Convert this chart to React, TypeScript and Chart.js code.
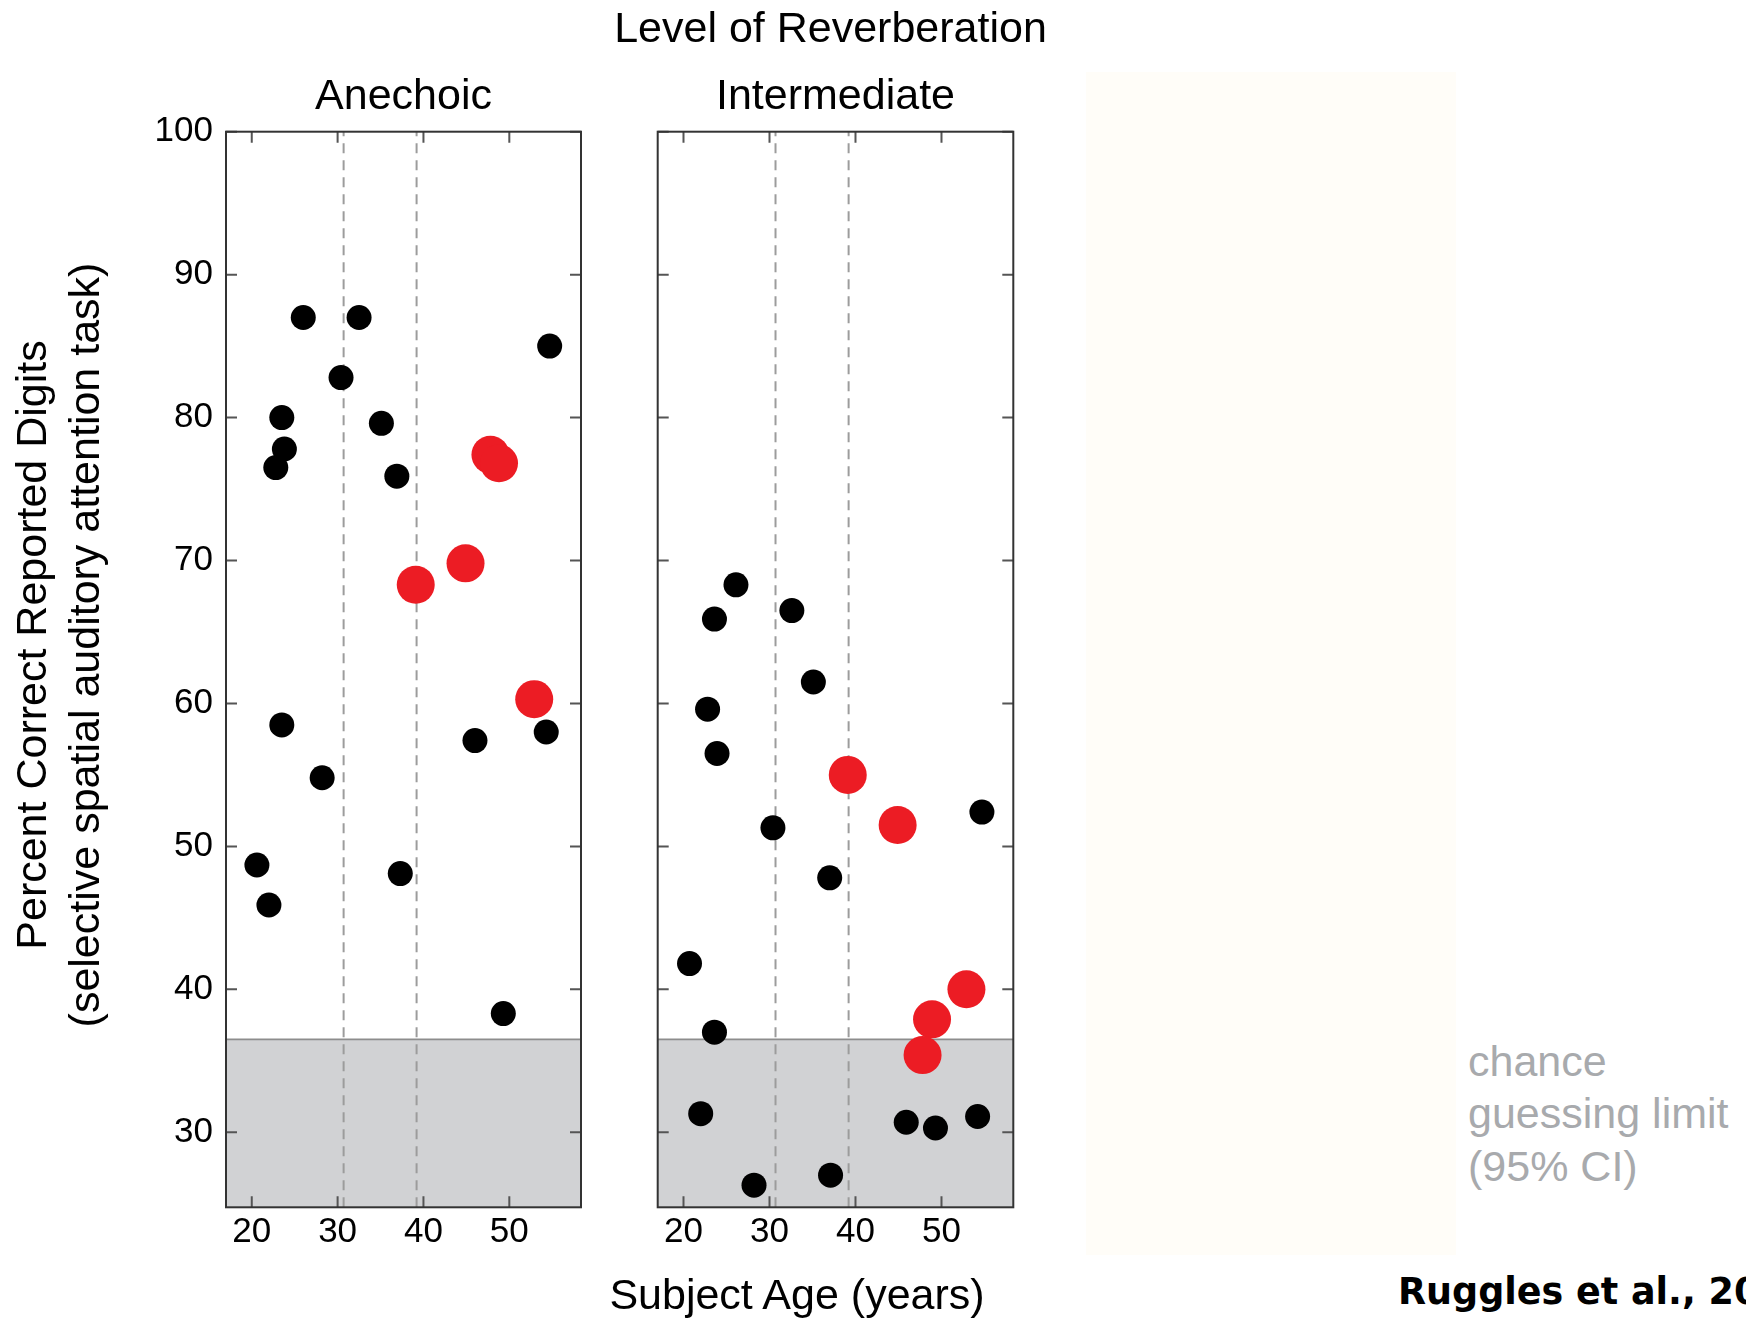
import React, { useEffect, useRef } from 'react';
import { Chart, registerables } from 'chart.js';

Chart.register(...registerables);

const FONT = "'Liberation Sans', Arial, Helvetica, sans-serif";

// ---- axis ranges & ticks ----
const AGE_MIN = 17;
const AGE_MAX = 58.35;
const AGE_TICK_STEP = 10;
const SCORE_MIN = 24.75;
const SCORE_MAX = 100;
const SCORE_TICK_STEP = 10;
const CHANCE_LIMIT = 36.5;
const AGE_GROUP_BOUNDS = [30.7, 39.2];

// ---- panel titles ----
const panelTitles = ['Anechoic', 'Intermediate'];

// ---- Anechoic panel ----
const anechoicBlackAge = [26.0, 32.5, 30.4, 54.7, 23.5, 35.1, 23.8, 22.8, 36.9, 23.5, 28.2, 46.0, 54.3, 20.6, 22.0, 37.3, 49.3];
const anechoicBlackScore = [87.0, 87.0, 82.8, 85.0, 80.0, 79.6, 77.8, 76.5, 75.9, 58.5, 54.8, 57.4, 58.0, 48.7, 45.9, 48.1, 38.3];
const anechoicRedAge = [47.8, 48.8, 44.9, 39.1, 52.9];
const anechoicRedScore = [77.4, 76.8, 69.8, 68.3, 60.3];

// ---- Intermediate panel ----
const intermediateBlackAge = [26.1, 23.6, 32.6, 35.1, 22.8, 23.9, 30.4, 54.7, 37.0, 20.7, 23.6, 22.0, 45.9, 49.3, 54.2, 28.2, 37.1];
const intermediateBlackScore = [68.3, 65.9, 66.5, 61.5, 59.6, 56.5, 51.3, 52.4, 47.8, 41.8, 37.0, 31.3, 30.7, 30.3, 31.1, 26.3, 27.0];
const intermediateRedAge = [39.1, 44.9, 52.9, 48.9, 47.8];
const intermediateRedScore = [55.0, 51.5, 40.0, 37.9, 35.4];

const toPts = (xs: number[], ys: number[]) => xs.map((x, i) => ({ x, y: ys[i] }));

const framePlugin = {
  id: 'frameTicks',
  afterDatasetsDraw(chart: any) {
    const { ctx, chartArea } = chart;
    const { left, top, right, bottom } = chartArea;
    const xs = chart.scales.x;
    const ys = chart.scales.y;
    const L = 11;
    ctx.save();
    ctx.strokeStyle = '#555';
    ctx.lineWidth = 2;
    ctx.beginPath();
    xs.ticks.forEach((t: any) => {
      const px = xs.getPixelForValue(t.value);
      ctx.moveTo(px, bottom);
      ctx.lineTo(px, bottom - L);
      ctx.moveTo(px, top);
      ctx.lineTo(px, top + L);
    });
    ys.ticks.forEach((t: any) => {
      const py = ys.getPixelForValue(t.value);
      ctx.moveTo(left, py);
      ctx.lineTo(left + L, py);
      ctx.moveTo(right, py);
      ctx.lineTo(right - L, py);
    });
    ctx.stroke();
    ctx.strokeStyle = '#333';
    ctx.lineWidth = 2;
    ctx.strokeRect(left, top, right - left, bottom - top);
    ctx.restore();
  },
};

function makeConfig(opts: {
  blackAge: number[];
  blackScore: number[];
  redAge: number[];
  redScore: number[];
  showYLabels: boolean;
  yAxisWidth: number;
  padRight: number;
}): any {
  return {
    type: 'scatter',
    data: {
      datasets: [
        {
          type: 'line',
          label: 'chance guessing limit',
          data: [
            { x: AGE_MIN, y: CHANCE_LIMIT },
            { x: AGE_MAX, y: CHANCE_LIMIT },
          ],
          fill: 'start',
          backgroundColor: '#d1d2d4',
          borderColor: '#8d8d8d',
          borderWidth: 1.6,
          pointRadius: 0,
          order: 10,
        },
        ...AGE_GROUP_BOUNDS.map((b) => ({
          type: 'line',
          label: 'age group bound',
          data: [
            { x: b, y: SCORE_MIN },
            { x: b, y: SCORE_MAX },
          ],
          borderColor: '#9c9c9c',
          borderWidth: 2,
          borderDash: [10, 7],
          pointRadius: 0,
          fill: false,
          order: 5,
        })),
        {
          label: 'black',
          data: toPts(opts.blackAge, opts.blackScore),
          pointBackgroundColor: '#000000',
          pointBorderWidth: 0,
          pointRadius: 12.5,
          pointHoverRadius: 12.5,
          clip: false,
          order: 1,
        },
        {
          label: 'red',
          data: toPts(opts.redAge, opts.redScore),
          pointBackgroundColor: '#ec1c24',
          pointBorderWidth: 0,
          pointRadius: 19,
          pointHoverRadius: 19,
          clip: false,
          order: 0,
        },
      ],
    },
    options: {
      animation: false,
      responsive: false,
      maintainAspectRatio: false,
      events: [],
      layout: { padding: { left: 0, top: 131.7, right: opts.padRight, bottom: 0 } },
      plugins: { legend: { display: false }, tooltip: { enabled: false }, title: { display: false } },
      scales: {
        x: {
          type: 'linear',
          position: 'bottom',
          min: AGE_MIN,
          max: AGE_MAX,
          ticks: {
            stepSize: AGE_TICK_STEP,
            includeBounds: false,
            color: '#000',
            padding: 4,
            maxRotation: 0,
            font: { family: FONT, size: 35 },
          },
          grid: { display: false, drawTicks: false },
          border: { display: false },
          afterFit: (s: any) => {
            s.height = 111.7;
          },
        },
        y: {
          type: 'linear',
          position: 'left',
          min: SCORE_MIN,
          max: SCORE_MAX,
          ticks: {
            stepSize: SCORE_TICK_STEP,
            includeBounds: false,
            color: opts.showYLabels ? '#000' : 'rgba(0,0,0,0)',
            padding: 13,
            font: { family: FONT, size: 35 },
          },
          grid: { display: false, drawTicks: false },
          border: { display: false },
          afterFit: (s: any) => {
            s.width = opts.yAxisWidth;
          },
        },
      },
    },
    plugins: [framePlugin],
  };
}

function Txt(props: {
  x: number;
  baseline: number;
  size: number;
  align?: 'center' | 'left';
  color?: string;
  weight?: string;
  family?: string;
  children: React.ReactNode;
}) {
  const { x, baseline, size, align = 'center', color = '#000', weight = 'normal', family = FONT } = props;
  return (
    <div
      style={{
        position: 'absolute',
        left: x,
        top: baseline - 0.8465 * size,
        transform: align === 'center' ? 'translateX(-50%)' : undefined,
        fontFamily: family,
        fontSize: size,
        lineHeight: `${size}px`,
        fontWeight: weight as any,
        color,
        whiteSpace: 'nowrap',
      }}
    >
      {props.children}
    </div>
  );
}

export default function App() {
  const leftRef = useRef<HTMLCanvasElement>(null);
  const rightRef = useRef<HTMLCanvasElement>(null);

  useEffect(() => {
    document.body.style.margin = '0';
    const c1 = new Chart(
      leftRef.current as HTMLCanvasElement,
      makeConfig({
        blackAge: anechoicBlackAge,
        blackScore: anechoicBlackScore,
        redAge: anechoicRedAge,
        redScore: anechoicRedScore,
        showYLabels: true,
        yAxisWidth: 226,
        padRight: 19,
      })
    );
    const c2 = new Chart(
      rightRef.current as HTMLCanvasElement,
      makeConfig({
        blackAge: intermediateBlackAge,
        blackScore: intermediateBlackScore,
        redAge: intermediateRedAge,
        redScore: intermediateRedScore,
        showYLabels: false,
        yAxisWidth: 57.7,
        padRight: 86.7,
      })
    );
    return () => {
      c1.destroy();
      c2.destroy();
    };
  }, []);

  return (
    <div
      style={{
        position: 'fixed',
        left: 0,
        top: 0,
        width: 1746,
        height: 1319,
        overflow: 'hidden',
        background: '#ffffff',
        fontFamily: FONT,
      }}
    >
      <div style={{ position: 'absolute', left: 1086, top: 72, width: 370, height: 1183, background: '#fffdf8' }} />
      <canvas
        ref={leftRef}
        width={600}
        height={1319}
        style={{ position: 'absolute', left: 0, top: 0, width: 600, height: 1319 }}
      />
      <canvas
        ref={rightRef}
        width={500}
        height={1319}
        style={{ position: 'absolute', left: 600, top: 0, width: 500, height: 1319 }}
      />

      <Txt x={830.5} baseline={42} size={43}>Level of Reverberation</Txt>
      <Txt x={403.5} baseline={109} size={43}>{panelTitles[0]}</Txt>
      <Txt x={835.5} baseline={109} size={43}>{panelTitles[1]}</Txt>
      <Txt x={797} baseline={1309} size={43}>Subject Age (years)</Txt>

      <div
        style={{
          position: 'absolute',
          left: 58.1 - 450,
          top: 645 - 53,
          width: 900,
          height: 106,
          lineHeight: '53px',
          fontSize: 43,
          fontFamily: FONT,
          color: '#000',
          textAlign: 'center',
          whiteSpace: 'nowrap',
          transform: 'rotate(-90deg)',
        }}
      >
        <div>Percent Correct Reported Digits</div>
        <div>(selective spatial auditory attention task)</div>
      </div>

      <div
        style={{
          position: 'absolute',
          left: 1468,
          top: 1076 - 41.3,
          fontSize: 43,
          lineHeight: '52.75px',
          fontFamily: FONT,
          color: '#a8aaad',
          whiteSpace: 'nowrap',
        }}
      >
        <div>chance</div>
        <div>guessing limit</div>
        <div>(95% CI)</div>
      </div>

      <Txt x={1398} baseline={1305} size={36.5} align="left" weight="bold" family="'DejaVu Sans', Verdana, sans-serif">
        Ruggles et al., 2012
      </Txt>
    </div>
  );
}
